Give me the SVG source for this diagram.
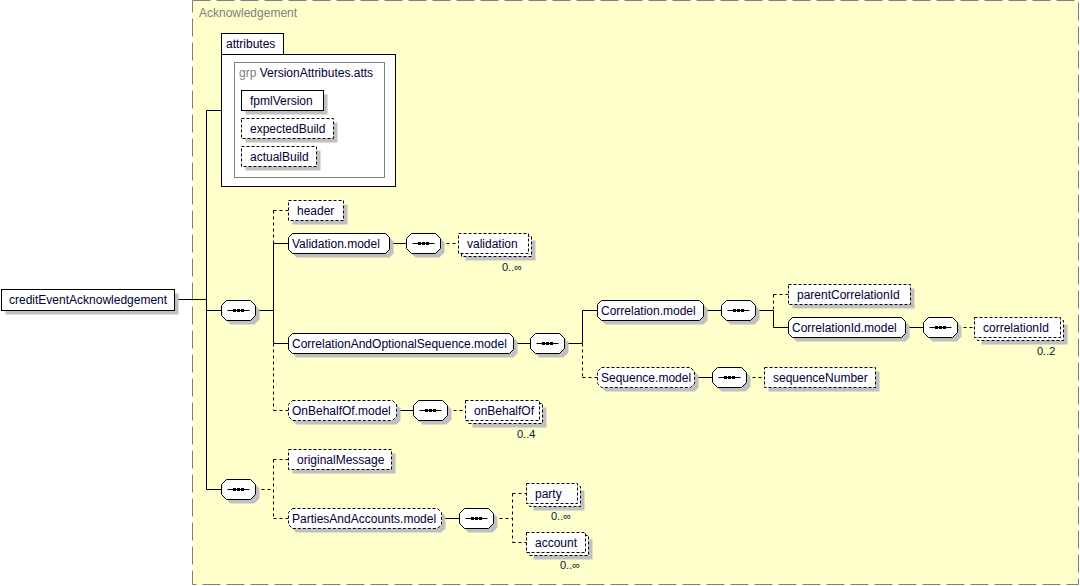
<svg xmlns="http://www.w3.org/2000/svg" width="1080" height="586" viewBox="0 0 1080 586">
<style>
.t{font-family:"Liberation Sans",Arial,sans-serif;font-size:12px;fill:#000033}
.g{fill:#808080}
.occ{font-family:"Liberation Sans",Arial,sans-serif;font-size:11px;fill:#00203a}
.box{fill:#fff;stroke:#000;stroke-width:1}
.opt{stroke-dasharray:3 2}
.sh{fill:#c0c0c0;stroke:none}
.ln{fill:none;stroke:#000;stroke-width:1}
.dl{stroke-dasharray:3 3}
</style>
<defs>
<g id="seq">
<polygon class="sh" points="9,4 33,4 38,9 38,19 33,24 9,24 4,19 4,9"/>
<polygon class="box" points="5,0 29,0 34,5 34,15 29,20 5,20 0,15 0,5"/>
<path class="ln" d="M6 10H28"/>
<rect x="11.5" y="8.5" width="3" height="3" fill="#000"/>
<rect x="15.5" y="8.5" width="3" height="3" fill="#000"/>
<rect x="19.5" y="8.5" width="3" height="3" fill="#000"/>
</g>
</defs>

<g id="acknowledgement">
<rect x="192.5" y="0.5" width="886" height="584" fill="#ffffcc" stroke="#808080" stroke-dasharray="18 6"/>
<text class="t g" x="199" y="17">Acknowledgement</text>
</g>

<g id="connectors">
<path class="ln" d="M174.5 299.5H206.5M206.5 110.5V489.5M206.5 110.5H221M206.5 310.5H221.5M206.5 489.5H221.5M255.5 310.5H273.5"/>
<path class="ln dl" d="M273.5 210.5V243.5M273.5 343.5V410.5M273.5 210.5H288.5M273.5 410.5H288.5"/>
<path class="ln" d="M273.5 243.5V343.5M273.5 243.5H288.5M273.5 343.5H288.5"/>
<path class="ln" d="M389.5 243.5H406.5"/>
<path class="ln dl" d="M440.5 243.5H458.5"/>
<path class="ln" d="M513.5 343.5H530.5M564.5 343.5H582.5M582.5 310.5V343.5M582.5 310.5H597.5"/>
<path class="ln dl" d="M582.5 343.5V377.5M582.5 377.5H597.5"/>
<path class="ln" d="M703.5 310.5H721.5M755.5 310.5H773.5M773.5 310.5V327.5M773.5 327.5H788.5"/>
<path class="ln dl" d="M773.5 294.5V310.5M773.5 294.5H788.5"/>
<path class="ln" d="M905.5 327.5H923.5"/>
<path class="ln dl" d="M957.5 327.5H974.5"/>
<path class="ln" d="M694.5 377.5H712.5"/>
<path class="ln dl" d="M746.5 377.5H764.5"/>
<path class="ln" d="M396.5 410.5H413.5"/>
<path class="ln dl" d="M447.5 410.5H465.5"/>
<path class="ln dl" d="M255.5 489.5H273.5M273.5 459.5V518.5M273.5 459.5H288.5M273.5 518.5H288.5"/>
<path class="ln" d="M441.5 518.5H459.5"/>
<path class="ln dl" d="M493.5 518.5H512.5M512.5 493.5V542.5M512.5 493.5H526.5M512.5 542.5H526.5"/>
</g>

<g id="creditEventAcknowledgement">
<rect class="sh" x="5.5" y="293.5" width="173" height="21"/>
<rect class="box" x="1.5" y="289.5" width="173" height="21"/>
<text class="t" x="9" y="304">creditEventAcknowledgement</text>
</g>

<g id="attributes">
<rect class="box" x="221.5" y="33.5" width="62" height="21"/>
<rect class="box" x="221.5" y="54.5" width="174" height="132"/>
<text class="t" x="226" y="48">attributes</text>
<rect x="234.5" y="62.5" width="150" height="115" fill="none" stroke="#808080"/>
<text class="t" x="239" y="77"><tspan class="g">grp</tspan> VersionAttributes.atts</text>
</g>
<g id="fpmlVersion">
<rect class="sh" x="245.5" y="94.5" width="82" height="20"/>
<rect class="box" x="241.5" y="90.5" width="82" height="20"/>
<text class="t" x="250" y="105">fpmlVersion</text>
</g>
<g id="expectedBuild">
<rect class="sh" x="245.5" y="122.5" width="92" height="20"/>
<rect class="box opt" x="241.5" y="118.5" width="92" height="20"/>
<text class="t" x="250" y="133">expectedBuild</text>
</g>
<g id="actualBuild">
<rect class="sh" x="245.5" y="150.5" width="75" height="20"/>
<rect class="box opt" x="241.5" y="146.5" width="75" height="20"/>
<text class="t" x="250" y="161">actualBuild</text>
</g>

<g id="seq1"><use href="#seq" x="221.5" y="300.5"/></g>

<g id="header">
<rect class="sh" x="292.5" y="204.5" width="55" height="20"/>
<rect class="box opt" x="288.5" y="200.5" width="55" height="20"/>
<text class="t" x="297" y="215">header</text>
</g>

<g id="ValidationModel">
<polygon class="sh" transform="translate(4 4)" points="292.5,233.5 385.5,233.5 389.5,237.5 389.5,249.5 385.5,253.5 292.5,253.5 288.5,249.5 288.5,237.5"/>
<polygon class="box" points="292.5,233.5 385.5,233.5 389.5,237.5 389.5,249.5 385.5,253.5 292.5,253.5 288.5,249.5 288.5,237.5"/>
<text class="t" x="292" y="248">Validation.model</text>
</g>
<g id="seqV"><use href="#seq" x="406.5" y="233.5"/></g>
<g id="validation">
<rect class="sh" x="465.5" y="240.5" width="70" height="20"/>
<rect class="box opt" x="461.5" y="236.5" width="70" height="20"/>
<rect class="box opt" x="458.5" y="233.5" width="70" height="20"/>
<text class="t" x="467" y="248">validation</text>
<text class="occ" x="502" y="271">0..∞</text>
</g>

<g id="CorrelationAndOptionalSequenceModel">
<polygon class="sh" transform="translate(4 4)" points="292.5,333.5 509.5,333.5 513.5,337.5 513.5,349.5 509.5,353.5 292.5,353.5 288.5,349.5 288.5,337.5"/>
<polygon class="box" points="292.5,333.5 509.5,333.5 513.5,337.5 513.5,349.5 509.5,353.5 292.5,353.5 288.5,349.5 288.5,337.5"/>
<text class="t" x="292" y="348">CorrelationAndOptionalSequence.model</text>
</g>
<g id="seqC"><use href="#seq" x="530.5" y="333.5"/></g>

<g id="CorrelationModel">
<polygon class="sh" transform="translate(4 4)" points="601.5,300.5 699.5,300.5 703.5,304.5 703.5,316.5 699.5,320.5 601.5,320.5 597.5,316.5 597.5,304.5"/>
<polygon class="box" points="601.5,300.5 699.5,300.5 703.5,304.5 703.5,316.5 699.5,320.5 601.5,320.5 597.5,316.5 597.5,304.5"/>
<text class="t" x="601" y="315">Correlation.model</text>
</g>
<g id="seqCorr"><use href="#seq" x="721.5" y="300.5"/></g>

<g id="parentCorrelationId">
<rect class="sh" x="792.5" y="288.5" width="122" height="20"/>
<rect class="box opt" x="788.5" y="284.5" width="122" height="20"/>
<text class="t" x="797" y="299">parentCorrelationId</text>
</g>

<g id="CorrelationIdModel">
<polygon class="sh" transform="translate(4 4)" points="792.5,317.5 901.5,317.5 905.5,321.5 905.5,333.5 901.5,337.5 792.5,337.5 788.5,333.5 788.5,321.5"/>
<polygon class="box" points="792.5,317.5 901.5,317.5 905.5,321.5 905.5,333.5 901.5,337.5 792.5,337.5 788.5,333.5 788.5,321.5"/>
<text class="t" x="792" y="332">CorrelationId.model</text>
</g>
<g id="seqCid"><use href="#seq" x="923.5" y="317.5"/></g>
<g id="correlationId">
<rect class="sh" x="981.5" y="324.5" width="86" height="20"/>
<rect class="box opt" x="977.5" y="320.5" width="86" height="20"/>
<rect class="box opt" x="974.5" y="317.5" width="86" height="20"/>
<text class="t" x="983" y="332">correlationId</text>
<text class="occ" x="1037" y="355">0..2</text>
</g>

<g id="SequenceModel">
<polygon class="sh" transform="translate(4 4)" points="601.5,367.5 690.5,367.5 694.5,371.5 694.5,383.5 690.5,387.5 601.5,387.5 597.5,383.5 597.5,371.5"/>
<polygon class="box opt" points="601.5,367.5 690.5,367.5 694.5,371.5 694.5,383.5 690.5,387.5 601.5,387.5 597.5,383.5 597.5,371.5"/>
<text class="t" x="601" y="382">Sequence.model</text>
</g>
<g id="seqS"><use href="#seq" x="712.5" y="367.5"/></g>
<g id="sequenceNumber">
<rect class="sh" x="768.5" y="371.5" width="111" height="20"/>
<rect class="box opt" x="764.5" y="367.5" width="111" height="20"/>
<text class="t" x="773" y="382">sequenceNumber</text>
</g>

<g id="OnBehalfOfModel">
<polygon class="sh" transform="translate(4 4)" points="292.5,400.5 392.5,400.5 396.5,404.5 396.5,416.5 392.5,420.5 292.5,420.5 288.5,416.5 288.5,404.5"/>
<polygon class="box opt" points="292.5,400.5 392.5,400.5 396.5,404.5 396.5,416.5 392.5,420.5 292.5,420.5 288.5,416.5 288.5,404.5"/>
<text class="t" x="292" y="415">OnBehalfOf.model</text>
</g>
<g id="seqO"><use href="#seq" x="413.5" y="400.5"/></g>
<g id="onBehalfOf">
<rect class="sh" x="472.5" y="407.5" width="74" height="20"/>
<rect class="box opt" x="468.5" y="403.5" width="74" height="20"/>
<rect class="box opt" x="465.5" y="400.5" width="74" height="20"/>
<text class="t" x="474" y="415">onBehalfOf</text>
<text class="occ" x="517" y="438">0..4</text>
</g>

<g id="seq2"><use href="#seq" x="221.5" y="479.5"/></g>

<g id="originalMessage">
<rect class="sh" x="292.5" y="453.5" width="103" height="20"/>
<rect class="box opt" x="288.5" y="449.5" width="103" height="20"/>
<text class="t" x="297" y="464">originalMessage</text>
</g>

<g id="PartiesAndAccountsModel">
<polygon class="sh" transform="translate(4 4)" points="292.5,508.5 437.5,508.5 441.5,512.5 441.5,524.5 437.5,528.5 292.5,528.5 288.5,524.5 288.5,512.5"/>
<polygon class="box opt" points="292.5,508.5 437.5,508.5 441.5,512.5 441.5,524.5 437.5,528.5 292.5,528.5 288.5,524.5 288.5,512.5"/>
<text class="t" x="292" y="523">PartiesAndAccounts.model</text>
</g>
<g id="seqP"><use href="#seq" x="459.5" y="508.5"/></g>

<g id="party">
<rect class="sh" x="533.5" y="490.5" width="51" height="20"/>
<rect class="box opt" x="529.5" y="486.5" width="51" height="20"/>
<rect class="box opt" x="526.5" y="483.5" width="51" height="20"/>
<text class="t" x="535" y="498">party</text>
<text class="occ" x="551" y="520">0..∞</text>
</g>

<g id="account">
<rect class="sh" x="533.5" y="539.5" width="59" height="20"/>
<rect class="box opt" x="529.5" y="535.5" width="59" height="20"/>
<rect class="box opt" x="526.5" y="532.5" width="59" height="20"/>
<text class="t" x="535" y="547">account</text>
<text class="occ" x="560" y="569">0..∞</text>
</g>
</svg>
